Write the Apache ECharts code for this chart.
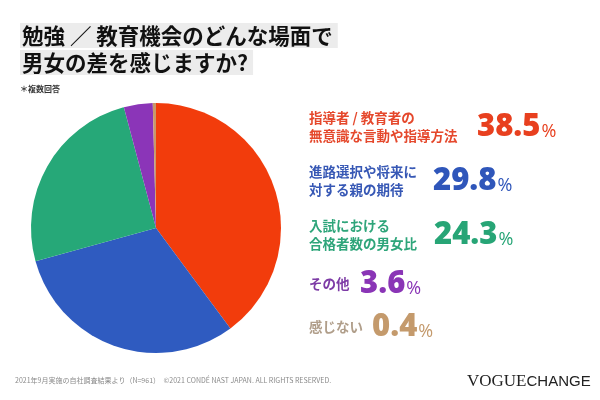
<!DOCTYPE html>
<html>
<head>
<meta charset="utf-8">
<script src="https://cdn.jsdelivr.net/npm/echarts@6/dist/echarts.min.js"></script>
<style>
  html, body { margin: 0; padding: 0; background: #fff; }
  #chart { width: 600px; height: 400px; }
</style>
</head>
<body>
<div id="chart"></div>
<script>
  // data
  const categories = [
    '指導者 / 教育者の\n無意識な言動や指導方法',
    '進路選択や将来に\n対する親の期待',
    '入試における\n合格者数の男女比',
    'その他',
    '感じない'
  ];
  const values = [38.5, 29.8, 24.3, 3.6, 0.4];
  const sliceColors = ['#F23C0C', '#2F5BC0', '#26A878', '#8B35B8', '#C79A6A'];
  const labelColors = ['#E5482C', '#3758B5', '#2EA57A', '#7D3BA6', '#B09E8A'];
  const numColors = ['#E8401F', '#2F56BA', '#27A576', '#8A35B6', '#C49A6C'];

  // where each legend row sits (label x, number x, row centre y)
  const rowY = [127, 181, 235, 284, 327];
  const numX = [477, 433, 434, 360, 372];
  const labelX = 309;

  const font = '"Noto Sans CJK JP", "Noto Sans", sans-serif';
  const numFont = '"Open Sans", Inter, sans-serif';

  const chart = echarts.init(document.getElementById('chart'));

  let legendGraphics = [];
  categories.forEach((name, i) => {
    legendGraphics.push({
      type: 'text',
      x: labelX,
      y: rowY[i],
      style: {
        text: name,
        fill: labelColors[i],
        font: 'bold 13.5px ' + font,
        lineHeight: 18,
        verticalAlign: 'middle'
      }
    });
    legendGraphics.push({
      type: 'text',
      x: numX[i],
      y: rowY[i],
      style: {
        text: '{n|' + values[i].toFixed(1) + '}{p|%}',
        verticalAlign: 'middle',
        rich: {
          n: { fontFamily: numFont, fontWeight: 800, fontSize: 31, fill: numColors[i] },
          p: { fontFamily: numFont, fontWeight: 500, fontSize: 18, fill: numColors[i], padding: [9, 0, 0, 1] }
        }
      }
    });
  });

  const option = {
    backgroundColor: '#ffffff',
    title: [
      {
        text: '勉強 ／ 教育機会のどんな場面で',
        left: 20, top: 23,
        padding: [0, 5, 0, 2],
        backgroundColor: '#ececec',
        textStyle: { fontFamily: font, fontWeight: 'bold', fontSize: 21.5, lineHeight: 25, color: '#111' }
      },
      {
        text: '男女の差を感じますか?',
        left: 20, top: 50,
        padding: [0, 5, 0, 2],
        backgroundColor: '#ececec',
        textStyle: { fontFamily: font, fontWeight: 'bold', fontSize: 21.5, lineHeight: 25, color: '#111' }
      },
      {
        text: '＊複数回答',
        left: 20, top: 85,
        padding: 0,
        textStyle: { fontFamily: font, fontWeight: 'bold', fontSize: 8, color: '#333' }
      },
      {
        text: '2021年9月実施の自社調査結果より（N=961）　©2021 CONDÉ NAST JAPAN. ALL RIGHTS RESERVED.',
        left: 15, top: 377,
        padding: 0,
        textStyle: { fontFamily: font, fontWeight: 'normal', fontSize: 7, color: '#8a8a8a' }
      }
    ],
    series: [{
      type: 'pie',
      center: [156, 228],
      radius: 125,
      startAngle: 90,
      clockwise: true,
      silent: true,
      label: { show: false },
      labelLine: { show: false },
      itemStyle: { borderWidth: 0 },
      data: categories.map((c, i) => ({ name: c, value: values[i], itemStyle: { color: sliceColors[i] } }))
    }],
    graphic: legendGraphics.concat([
      {
        type: 'text',
        x: 467, y: 382,
        style: {
          text: '{v|VOGUE}{c|CHANGE}',
          verticalAlign: 'middle',
          rich: {
            v: { fontFamily: '"Liberation Serif", serif', fontSize: 17, fill: '#222' },
            c: { fontFamily: '"Liberation Sans", sans-serif', fontSize: 15, fill: '#222' }
          }
        }
      }
    ])
  };

  chart.setOption(option);
</script>
</body>
</html>
